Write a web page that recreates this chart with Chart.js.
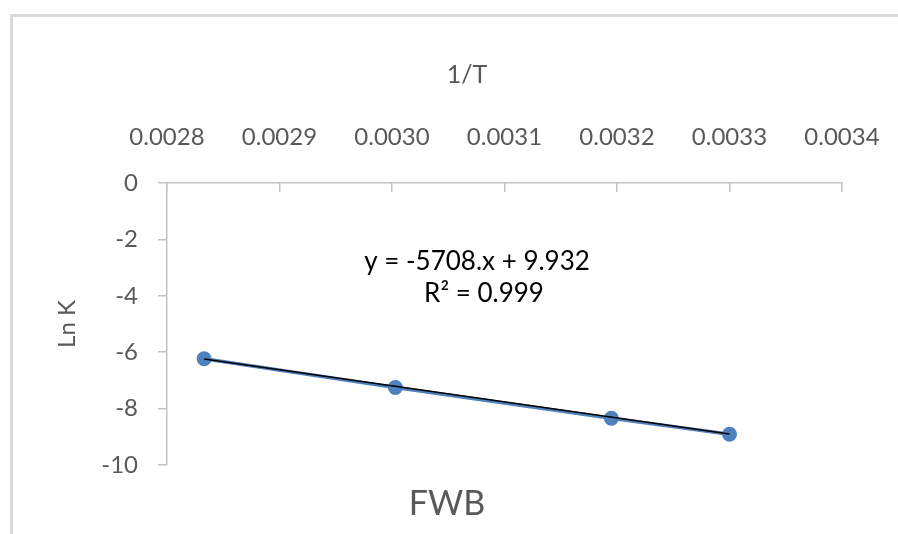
<!DOCTYPE html>
<html>
<head>
<meta charset="utf-8">
<script src="https://cdn.jsdelivr.net/npm/chart.js@4/dist/chart.umd.min.js"></script>
<style>
  html, body { margin: 0; padding: 0; background: #fff; }
  #wrap { position: relative; width: 898px; height: 534px; overflow: hidden; }
  #frame { position: absolute; left: 10px; top: 14px; right: 0; bottom: 0;
           border-top: 3px solid #dadada; border-left: 3px solid #dadada; }
  #plot { position: absolute; left: 0; top: 0; }
</style>
</head>
<body>
<div id="wrap">
  <div id="frame"></div>
  <canvas id="plot" width="898" height="534"></canvas>
</div>
<script>
// 1/T against ln K, with the least-squares line
var invT = [0.002833, 0.003003, 0.003195, 0.003300];
var lnK = [-6.23, -7.25, -8.34, -8.91];
var xTicks = [0.0028, 0.0029, 0.0030, 0.0031, 0.0032, 0.0033, 0.0034];
var yTicks = [0, -2, -4, -6, -8, -10];
var fitSlope = -5708;
var fitIntercept = 9.932;
var fitR2 = 0.999;

var grey = '#595959';
var axisGrey = '#c4c4c4';
var fontFamily = 'Lato, "Open Sans", sans-serif';

var points = invT.map(function (x, i) { return {x: x, y: lnK[i]}; });
// trendline only spans the measured range
var fitEnds = [invT[0], invT[invT.length - 1]].map(function (x) {
    return {x: x, y: fitSlope * x + fitIntercept};
});

// labels that sit at fixed spots on the canvas: axis name, equation box, title
var chartLabels = {
    id: 'chartLabels',
    afterDraw: function (chart) {
        var ctx = chart.ctx;
        ctx.save();
        ctx.textAlign = 'center';
        ctx.textBaseline = 'middle';

        ctx.fillStyle = grey;
        ctx.font = '25px ' + fontFamily;
        ctx.fillText('1/T', 467, 75);

        ctx.fillStyle = '#000';
        ctx.font = '26px ' + fontFamily;
        ctx.fillText('y = ' + fitSlope + '.x + ' + fitIntercept, 477, 262);
        ctx.fillText('R\u00b2 = ' + fitR2, 484, 294);

        ctx.fillStyle = grey;
        ctx.font = '34px ' + fontFamily;
        ctx.fillText('FWB', 447, 504);
        ctx.restore();
    }
};

var canvas = document.getElementById('plot');
var lnChart = new Chart(canvas, {
    type: 'scatter',
    data: {
        datasets: [
        {
            label: 'Trendline',
            data: fitEnds,
            showLine: true,
            borderColor: '#000',
            borderWidth: 1.5,
            pointRadius: 0,
            order: 0
        },
        {
            label: 'Ln K',
            data: points,
            showLine: true,
            borderColor: '#4f81bd',
            borderWidth: 3.5,
            pointRadius: 7.5,
            pointBackgroundColor: '#4f81bd',
            pointBorderWidth: 0,
            order: 1
        }]
    },
    options: {
        responsive: false,
        animation: false,
        layout: { padding: { left: 14, top: 16, right: 56, bottom: 69 } },
        plugins: {
            legend: { display: false },
            tooltip: { enabled: false },
            title: { display: false }
        },
        scales: {
            x: {
                type: 'linear',
                position: 'top',
                min: xTicks[0],
                max: xTicks[xTicks.length - 1],
                afterBuildTicks: function (scale) {
                    scale.ticks = xTicks.map(function (v) { return {value: v}; });
                },
                afterFit: function (scale) {
                    scale.height = 167;
                    // let the end labels hang past the plot edge
                    scale.paddingLeft = 0;
                    scale.paddingRight = 0;
                },
                ticks: {
                    color: grey,
                    font: { family: fontFamily, size: 24 },
                    padding: 40,
                    maxRotation: 0,
                    callback: function (v) { return Number(v).toFixed(4); }
                },
                grid: {
                    drawOnChartArea: false,
                    color: axisGrey,
                    tickLength: -9,
                    lineWidth: 1.5
                },
                border: { color: axisGrey, width: 1.5 }
            },
            y: {
                type: 'linear',
                position: 'left',
                min: yTicks[yTicks.length - 1],
                max: yTicks[0],
                afterBuildTicks: function (scale) {
                    scale.ticks = yTicks.slice().reverse().map(function (v) { return {value: v}; });
                },
                afterFit: function (scale) { scale.width = 153; },
                title: {
                    display: true,
                    text: 'Ln K',
                    color: grey,
                    font: { family: fontFamily, size: 24 },
                    padding: { top: 39, bottom: 0 }
                },
                ticks: {
                    color: grey,
                    font: { family: fontFamily, size: 24 },
                    padding: 20
                },
                grid: {
                    drawOnChartArea: false,
                    color: axisGrey,
                    tickLength: 9,
                    lineWidth: 1.5
                },
                border: { color: axisGrey, width: 1.5 }
            }
        }
    },
    plugins: [chartLabels]
});
</script>
</body>
</html>
